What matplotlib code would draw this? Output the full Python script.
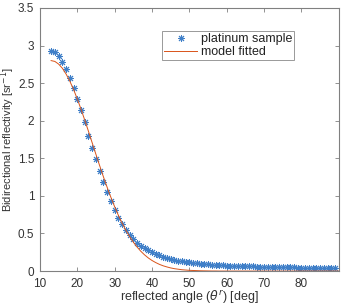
import matplotlib
matplotlib.use('Agg')
import matplotlib.pyplot as plt

plt.rcParams['font.family'] = ['Liberation Sans', 'DejaVu Sans']

# measured data (reflected angle in deg, BRDF in sr^-1)
angle = list(range(13, 90))
brdf = [2.93, 2.92, 2.86, 2.78, 2.69, 2.57, 2.43, 2.29, 2.14, 1.98,
        1.80, 1.64, 1.49, 1.33, 1.19, 1.05, 0.93, 0.81, 0.71, 0.62,
        0.55, 0.48, 0.43, 0.38, 0.34, 0.31, 0.28, 0.255, 0.23, 0.21,
        0.19, 0.175, 0.16, 0.148, 0.138, 0.13, 0.122, 0.115, 0.109, 0.103,
        0.098, 0.094, 0.09, 0.086, 0.083, 0.08, 0.077, 0.074, 0.072, 0.07,
        0.068, 0.066, 0.064, 0.062, 0.061, 0.059, 0.058, 0.056, 0.055, 0.054,
        0.053, 0.052, 0.051, 0.05, 0.049, 0.048, 0.047, 0.046, 0.045, 0.044,
        0.043, 0.042, 0.041, 0.041, 0.04, 0.04, 0.039]

# fitted model
model_angle = list(range(13, 91))
model = [2.80, 2.789, 2.754, 2.699, 2.622, 2.527, 2.416, 2.291, 2.154, 2.009,
         1.859, 1.705, 1.552, 1.401, 1.254, 1.114, 0.981, 0.857, 0.742, 0.638,
         0.543, 0.459, 0.385, 0.320, 0.264, 0.216, 0.175, 0.141, 0.113, 0.089,
         0.070, 0.055, 0.042, 0.032, 0.025, 0.018, 0.014, 0.010, 0.008, 0.006,
         0.004, 0.003, 0.002, 0.001, 0.001, 0, 0, 0, 0, 0,
         0, 0, 0, 0, 0, 0, 0, 0, 0, 0,
         0, 0, 0, 0, 0, 0, 0, 0, 0, 0,
         0, 0, 0, 0, 0, 0, 0, 0]

xticks = [10, 20, 30, 40, 50, 60, 70, 80]
yticks = [0, 0.5, 1, 1.5, 2, 2.5, 3, 3.5]
ytick_labels = ['0', '0.5', '1', '1.5', '2', '2.5', '3', '3.5']

fig = plt.figure(figsize=(3.44, 3.07), dpi=100)
ax = fig.add_axes([0.116, 0.117, 0.869, 0.857])

ax.plot(angle, brdf, linestyle='none', marker=(8, 2, 0), markersize=5,
        markeredgewidth=0.7, color='#3f7fc8', label='platinum sample')
ax.plot(model_angle, model, color='#D95319', linewidth=0.7, label='model fitted')

ax.set_xlim(10, 90)
ax.set_ylim(0, 3.5)
ax.set_xticks(xticks)
ax.set_yticks(yticks)
ax.set_yticklabels(ytick_labels)

for s in ax.spines.values():
    s.set_color('#808080')
    s.set_linewidth(0.8)
ax.tick_params(direction='in', length=3, width=0.6, top=True, right=True,
               colors='#808080', labelcolor='#333333', labelsize=8.5)
ax.tick_params(axis='x', pad=5)
ax.tick_params(axis='y', pad=4)

ax.set_xlabel(r'reflected angle ($\theta^r$) [deg]', fontsize=9, color='#333333')
ax.set_ylabel(r'Bidirectional reflectivity [sr$^{-1}$]', fontsize=8, color='#333333')
ax.xaxis.set_label_coords(0.5, -0.068)
ax.yaxis.set_label_coords(-0.075, 0.5)

leg = ax.legend(loc='upper left', bbox_to_anchor=(0.408, 0.913), fontsize=9,
                frameon=True, fancybox=False, borderpad=0.2, handlelength=2.6,
                handletextpad=0.3, labelspacing=0.05, borderaxespad=0)
leg.get_frame().set_edgecolor('#808080')
leg.get_frame().set_linewidth(0.7)
for t in leg.get_texts():
    t.set_color('#222222')

fig.savefig('out.png', dpi=100)
